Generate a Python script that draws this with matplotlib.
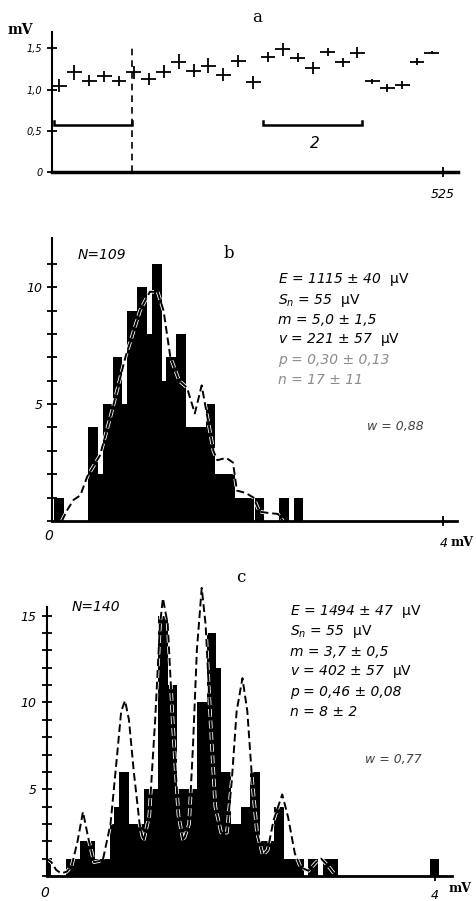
import matplotlib
matplotlib.use('Agg')
import matplotlib.pyplot as plt
import matplotlib.patheffects as pe

W, H = 477, 901

# --- panel a: mean amplitude of successive blocks of trials ---
a_trial = [10, 30, 50, 70, 90, 110, 130, 150, 170, 190, 210, 230, 250,
           270, 290, 310, 330, 350, 370, 390, 410, 430, 450, 470, 490, 510]
a_amp = [1.05, 1.21, 1.11, 1.16, 1.11, 1.21, 1.13, 1.22, 1.34, 1.23, 1.29, 1.18, 1.35,
         1.09, 1.40, 1.49, 1.39, 1.26, 1.46, 1.33, 1.45, 1.10, 1.02, 1.06, 1.34, 1.45]
a_amp_err = [0.08, 0.09, 0.07, 0.07, 0.06, 0.08, 0.07, 0.08, 0.09, 0.08, 0.09, 0.08, 0.07,
             0.08, 0.06, 0.08, 0.06, 0.07, 0.05, 0.05, 0.07, 0.03, 0.05, 0.05, 0.04, 0.02]
a_trial_err = 10
a_brackets = [(3, 107), (283, 416)]
a_bracket_level = 0.57
a_split = 107

# --- panel b: amplitude histogram, N=109 ---
b_bin_start = 0.02
b_bin_width = 0.05
b_counts = [1, 1, 0, 0, 0, 0, 0, 4, 4, 2, 5, 5, 7, 7, 5, 9, 9, 10, 10, 8,
            11, 11, 6, 7, 7, 8, 8, 4, 4, 4, 4, 5, 5, 2, 2, 2, 2, 1, 1, 1,
            1, 1, 1, 0, 0, 0, 1, 1, 0, 1, 1]
b_curve_mv = [0.10, 0.16, 0.22, 0.29, 0.36, 0.49, 0.60, 0.75, 0.90, 1.00, 1.08, 1.14,
              1.21, 1.30, 1.38, 1.46, 1.53, 1.59, 1.65, 1.69, 1.78, 1.85, 1.89, 1.98,
              2.06, 2.12, 2.20, 2.31, 2.36]
b_curve_n = [0.0, 0.5, 0.9, 1.1, 1.9, 2.8, 4.5, 7.0, 9.0, 9.8, 9.8, 9.0,
             7.0, 6.0, 5.7, 4.6, 5.8, 4.4, 3.0, 2.6, 2.7, 2.5, 1.3, 1.2,
             1.0, 0.4, 0.35, 0.3, 0.0]

# --- panel c: amplitude histogram, N=140 ---
c_bin_start = 0.0
c_bin_width = 0.05
c_counts = [1, 0, 0, 0, 1, 1, 1, 2, 2, 2, 1, 1, 1, 3, 4, 6, 6, 3, 3, 3,
            5, 5, 5, 15, 15, 11, 11, 5, 5, 5, 5, 10, 10, 14, 14, 12, 6, 6, 3, 3,
            4, 4, 6, 6, 2, 2, 2, 4, 4, 1, 1, 1, 1, 0, 1, 1, 0, 1, 1, 1,
            0, 0, 0, 0, 0, 0, 0, 0, 0, 0, 0, 0, 0, 0, 0, 0, 0, 0, 0, 1, 1]
c_curve_mv = [0.00, 0.05, 0.10, 0.15, 0.21, 0.26, 0.32, 0.376, 0.43, 0.49, 0.58,
              0.66, 0.72, 0.77, 0.81, 0.85, 0.90, 0.96, 1.00, 1.06, 1.12, 1.17,
              1.20, 1.25, 1.30, 1.36, 1.41, 1.47, 1.51, 1.55, 1.60, 1.64, 1.69,
              1.74, 1.80, 1.86, 1.91, 1.96, 2.02, 2.07, 2.12, 2.17, 2.23, 2.28,
              2.34, 2.43, 2.49, 2.56, 2.62, 2.70, 2.78, 2.83, 2.90, 2.97]
c_curve_n = [1.0, 0.8, 0.35, 0.15, 0.25, 0.6, 2.0, 3.7, 2.2, 0.8, 0.9,
             3.0, 6.5, 9.5, 10.1, 9.0, 6.0, 3.0, 2.0, 3.5, 9.0, 14.5,
             16.0, 14.5, 9.0, 3.5, 2.0, 3.0, 7.5, 13.0, 16.6, 14.5, 9.0,
             4.0, 2.5, 2.5, 5.5, 9.5, 11.4, 9.5, 5.5, 2.5, 1.2, 1.5,
             3.2, 4.7, 3.4, 1.3, 0.5, 0.3, 0.8, 1.0, 0.6, 0.1]

b_stats = ["E = 1115 \u00b1 40", "S$_n$ = 55", "m = 5,0 \u00b1 1,5",
           "v = 221 \u00b1 57", "p = 0,30 \u00b1 0,13", "n = 17 \u00b1 11"]
c_stats = ["E = 1494 \u00b1 47", "S$_n$ = 55", "m = 3,7 \u00b1 0,5",
           "v = 402 \u00b1 57", "p = 0,46 \u00b1 0,08", "n = 8 \u00b1 2"]
stats_units = [True, True, False, True, False, False]

plt.rcParams['font.family'] = ['DejaVu Sans']
ITAL = dict(style='italic', family='DejaVu Sans')
SERIF = dict(family='DejaVu Serif')


def rect(x0, ytop, x1, ybot):
    return [x0 / W, 1 - ybot / H, (x1 - x0) / W, (ybot - ytop) / H]


def ftext(x, y, s, size=10, **kw):
    fig.text(x / W, 1 - y / H, s, fontsize=size, va='center', **kw)


def style_axes(ax, lw_bottom=2.0):
    for s in ['top', 'right']:
        ax.spines[s].set_visible(False)
    ax.spines['left'].set_linewidth(1.5)
    ax.spines['bottom'].set_linewidth(lw_bottom)
    ax.tick_params(direction='inout', length=7, width=1.3, colors='black',
                   labelsize=9)
    for lab in ax.get_xticklabels() + ax.get_yticklabels():
        lab.set_style('italic')


fig = plt.figure(figsize=(W / 100, H / 100), dpi=100)

# ---------------- a ----------------
ax = fig.add_axes(rect(52, 32, 458, 172))
ax.errorbar(a_trial, a_amp, xerr=a_trial_err, yerr=a_amp_err, fmt='none',
            ecolor='black', elinewidth=1.3, capsize=0)
for x0, x1 in a_brackets:
    ax.plot([x0, x0, x1, x1],
            [a_bracket_level + 0.05, a_bracket_level, a_bracket_level, a_bracket_level + 0.05],
            color='black', lw=1.8, solid_joinstyle='miter')
ax.vlines(a_split, 0, 1.5, colors='black', linestyles=(0, (4, 3)), lw=1.2)
ax.set_xlim(0, 545)
ax.set_ylim(0, 1.7)
ax.set_xticks([525])
ax.set_xticklabels(['525'], color='0.4')
ax.set_yticks([0, 0.5, 1.0, 1.5])
ax.set_yticklabels(['0', '0,5', '1,0', '1,5'], color='0.45', fontsize=7)
style_axes(ax, lw_bottom=2.5)
ax.tick_params(axis='y', labelsize=7)
ax.tick_params(axis='x', pad=8)
ftext(252, 18, 'a', 12, **SERIF)
ftext(8, 30, 'mV', 10, weight='bold', **SERIF)
ftext(310, 143, '2', 11, **ITAL)

# ---------------- b ----------------
outline = [pe.Stroke(linewidth=2.6, foreground='white'), pe.Normal()]
ax = fig.add_axes(rect(52, 238, 457, 521))
b_left = [b_bin_start + i * b_bin_width for i in range(len(b_counts))]
ax.bar(b_left, b_counts, width=b_bin_width, align='edge', color='black', lw=0)
ax.plot(b_curve_mv, b_curve_n, color='black', lw=1.4, ls=(0, (4, 2)),
        path_effects=outline, clip_on=False)
ax.set_xlim(0, 4.14)
ax.set_ylim(0, 12.1)
ax.set_xticks([4])
ax.set_xticklabels(['4'])
ax.set_yticks(range(0, 12))
ax.set_yticklabels(['' if k not in (5, 10) else str(k) for k in range(0, 12)])
style_axes(ax)
ax.tick_params(axis='x', pad=8)
ftext(44, 536, '0', 10, **ITAL)
ftext(451, 543, 'mV', 9, weight='bold', **SERIF)
ftext(78, 255, 'N=109', 10, **ITAL)
ftext(224, 253, 'b', 12, **SERIF)
for k, (s, u) in enumerate(zip(b_stats, stats_units)):
    col = 'black' if k < 4 else '0.55'
    ftext(278, 280 + 20 * k, s + (r'  $\mathrm{\mu V}$' if u else ''), 10,
          color=col, **ITAL)
ftext(367, 427, 'w = 0,88', 9, color='0.25', **ITAL)

# ---------------- c ----------------
ax = fig.add_axes(rect(46.5, 607, 452, 876))
c_left = [c_bin_start + i * c_bin_width for i in range(len(c_counts))]
ax.bar(c_left, c_counts, width=c_bin_width, align='edge', color='black', lw=0)
ax.plot(c_curve_mv, c_curve_n, color='black', lw=1.4, ls=(0, (4, 2)),
        path_effects=outline, clip_on=False)
ax.set_xlim(0, 4.18)
ax.set_ylim(0, 15.5)
ax.set_xticks([4])
ax.set_xticklabels(['4'])
ax.set_yticks(range(0, 16))
ax.set_yticklabels(['' if k not in (5, 10, 15) else str(k) for k in range(0, 16)])
style_axes(ax)
ax.tick_params(axis='x', pad=6)
ftext(40, 893, '0', 10, **ITAL)
ftext(449, 889, 'mV', 9, weight='bold', **SERIF)
ftext(72, 607, 'N=140', 10, **ITAL)
ftext(236, 578, 'c', 12, **SERIF)
for k, (s, u) in enumerate(zip(c_stats, stats_units)):
    ftext(290, 612 + 20 * k, s + (r'  $\mathrm{\mu V}$' if u else ''), 10, **ITAL)
ftext(365, 760, 'w = 0,77', 9, color='0.25', **ITAL)

fig.savefig('out.png', dpi=100, facecolor='white')
